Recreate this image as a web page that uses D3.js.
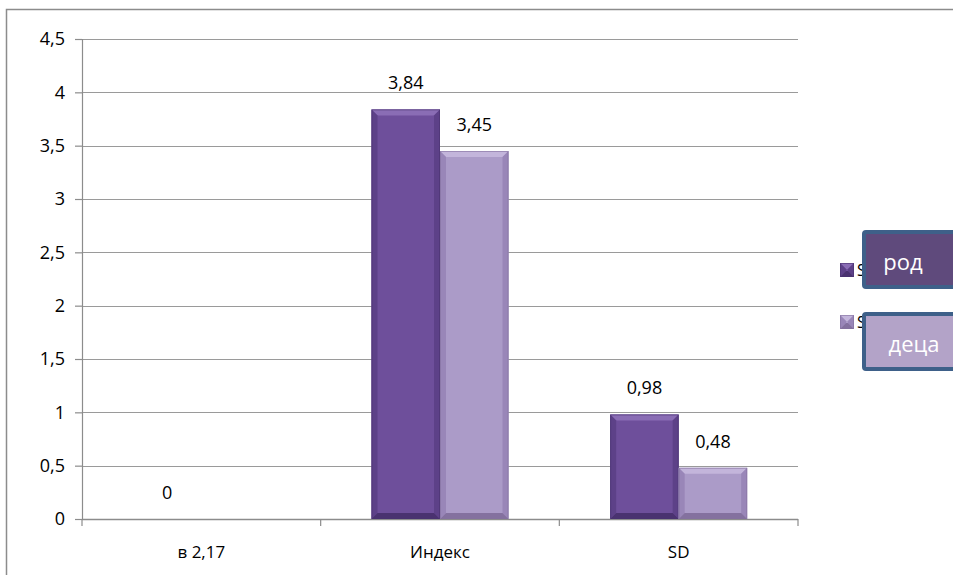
<!DOCTYPE html>
<html>
<head>
<meta charset="utf-8">
<script src="https://cdn.jsdelivr.net/npm/d3@7"></script>
<style>
  html, body { margin: 0; padding: 0; background: #fff; }
  svg { display: block; font-family: "Open Sans", "Lato", sans-serif; }
</style>
</head>
<body>
<svg id="chart" width="953" height="575"></svg>
<script>
// Chart data
const categories = ["в 2,17", "Индекс", "SD"];
const seriesNames = ["Series1", "Series2"];
const seriesParent = [0, 3.84, 0.98];
const seriesChild = [null, 3.45, 0.48];
const yTicks = [0, 0.5, 1, 1.5, 2, 2.5, 3, 3.5, 4, 4.5];
const legendLabels = ["род", "деца"];

const palette = [
  { face: "#6e4f9b", top: "#8a6db5", side: "#5d4188", bottom: "#4a3270" },
  { face: "#ab9bc8", top: "#c3b5db", side: "#9986b8", bottom: "#84719f" }
];
const boxFill = ["#5f4a7c", "#b3a3c8"];

const svg = d3.select("#chart");
const fmt = v => String(v).replace(".", ",");

// outer frame
svg.append("rect")
  .attr("x", 6.5).attr("y", 9.5).attr("width", 1000).attr("height", 1000)
  .attr("fill", "none").attr("stroke", "#8c8c8c").attr("stroke-width", 1.5);

const plot = { left: 82, right: 798, top: 39, bottom: 519 };

const y = d3.scaleLinear().domain([0, 4.5]).range([plot.bottom, plot.top]);
const x0 = d3.scaleBand().domain(categories).range([plot.left, plot.right]).padding(0);
const bandW = x0.bandwidth();
const groupW = 137;
const x1 = d3.scaleBand().domain(seriesNames)
  .range([(bandW - groupW) / 2, (bandW + groupW) / 2]).padding(0);

// gridlines
svg.append("g").selectAll("line").data(yTicks.slice(1)).join("line")
  .attr("x1", plot.left).attr("x2", plot.right)
  .attr("y1", d => Math.round(y(d)) + 0.5).attr("y2", d => Math.round(y(d)) + 0.5)
  .attr("stroke", "#9a9a9a").attr("stroke-width", 1.2);

// y axis
const yAxis = d3.axisLeft(y).tickValues(yTicks).tickSize(7).tickPadding(10).tickFormat(fmt);
const gy = svg.append("g").attr("transform", `translate(${plot.left},0)`).call(yAxis);
gy.select(".domain").attr("stroke", "#8c8c8c").attr("stroke-width", 1.2);
gy.selectAll(".tick line").attr("stroke", "#8c8c8c").attr("stroke-width", 1.2);
gy.selectAll(".tick text").attr("font-size", 18).attr("fill", "#000")
  .attr("font-family", "'Open Sans', sans-serif");

// x axis
const gx = svg.append("g").attr("transform", `translate(0,${plot.bottom})`);
gx.append("line").attr("x1", plot.left).attr("x2", plot.right)
  .attr("y1", 0.5).attr("y2", 0.5).attr("stroke", "#8c8c8c").attr("stroke-width", 1.5);
const bounds = categories.map(c => x0(c)).concat([plot.right]);
gx.selectAll("line.tk").data(bounds).join("line").attr("class", "tk")
  .attr("x1", d => d).attr("x2", d => d).attr("y1", 0).attr("y2", 7)
  .attr("stroke", "#8c8c8c").attr("stroke-width", 1.2);
gx.selectAll("text").data(categories).join("text")
  .attr("x", d => x0(d) + bandW / 2).attr("y", 39)
  .attr("text-anchor", "middle").attr("font-size", 17).attr("fill", "#000")
  .text(d => d);

// bevelled bar
function bevelBar(g, bx, by, bw, bh, c) {
  if (bh <= 0) return;
  const b = Math.min(6, bh / 2, bw / 2);
  g.append("rect").attr("x", bx).attr("y", by).attr("width", bw).attr("height", bh).attr("fill", c.face);
  g.append("polygon").attr("fill", c.top)
    .attr("points", [[bx, by], [bx + bw, by], [bx + bw - b, by + b], [bx + b, by + b]].join(" "));
  g.append("polygon").attr("fill", c.side)
    .attr("points", [[bx, by], [bx + b, by + b], [bx + b, by + bh - b], [bx, by + bh]].join(" "));
  g.append("polygon").attr("fill", c.side)
    .attr("points", [[bx + bw, by], [bx + bw - b, by + b], [bx + bw - b, by + bh - b], [bx + bw, by + bh]].join(" "));
  g.append("polygon").attr("fill", c.bottom)
    .attr("points", [[bx, by + bh], [bx + b, by + bh - b], [bx + bw - b, by + bh - b], [bx + bw, by + bh]].join(" "));
  g.append("rect").attr("x", bx + 0.5).attr("y", by + 0.5).attr("width", bw - 1).attr("height", bh - 1)
    .attr("fill", "none").attr("stroke", c.bottom).attr("stroke-width", 1).attr("stroke-opacity", 0.6);
}

const allSeries = [seriesParent, seriesChild];
const barsG = svg.append("g");
allSeries.forEach((vals, si) => {
  vals.forEach((v, ci) => {
    if (v === null) return;
    const bx = x0(categories[ci]) + x1(seriesNames[si]);
    const bw = x1.bandwidth();
    bevelBar(barsG, bx, y(v), bw, y(0) - y(v), palette[si]);
    barsG.append("text")
      .attr("x", bx + bw / 2).attr("y", y(v) - 20)
      .attr("text-anchor", "middle").attr("font-size", 18).attr("fill", "#000")
      .text(fmt(v));
  });
});

// legend: series entries sit behind the callout boxes
const legend = svg.append("g");
seriesNames.forEach((name, i) => {
  const ly = 270 + i * 52;
  const mg = legend.append("g");
  bevelBar(mg, 840, ly - 7, 14, 14, palette[i]);
  legend.append("text").attr("x", 857).attr("y", ly + 6)
    .attr("font-size", 16).attr("fill", "#000").text(name);
});
legendLabels.forEach((lab, i) => {
  const by = i === 0 ? 232 : 314;
  legend.append("rect")
    .attr("x", 864).attr("y", by).attr("width", 110).attr("height", 55).attr("rx", 2)
    .attr("fill", boxFill[i]).attr("stroke", "#3e6089").attr("stroke-width", 4);
  legend.append("text")
    .attr("x", i === 0 ? 903 : 914).attr("y", by + 38)
    .attr("text-anchor", "middle").attr("font-size", 22).attr("fill", "#fff")
    .text(lab);
});
</script>
</body>
</html>
